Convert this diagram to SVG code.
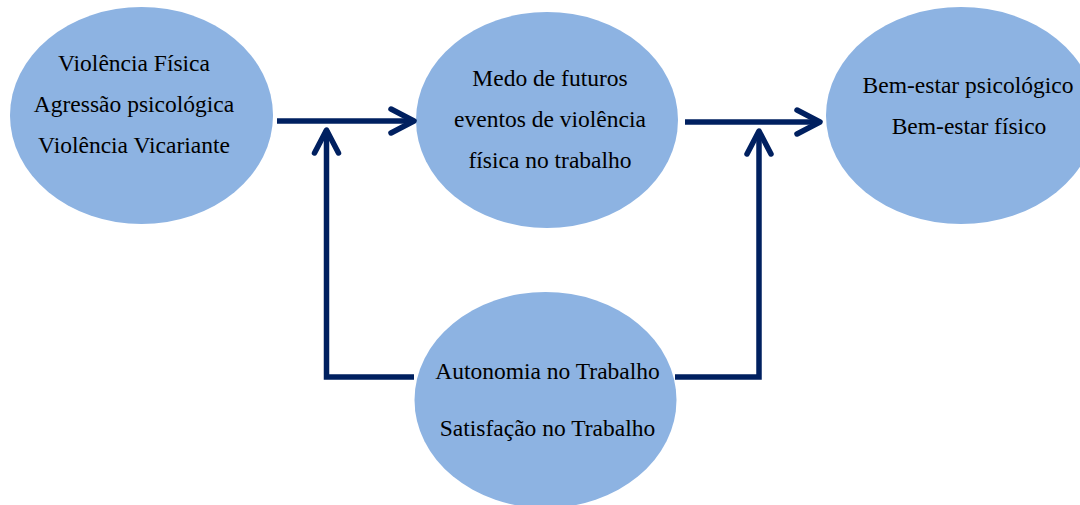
<svg xmlns="http://www.w3.org/2000/svg" width="1080" height="505" viewBox="0 0 1080 505">
<style>
.node{fill:#8DB3E2;}
.lbl{font-family:"Liberation Serif","Times New Roman",serif;font-size:23.5px;fill:#000;text-anchor:middle;}
.conn{fill:none;stroke:#002060;stroke-width:5.5;stroke-linejoin:miter;marker-end:url(#arrow);}
</style>
<defs>
<marker id="arrow" markerUnits="userSpaceOnUse" viewBox="-30 -16 34 32" refX="0" refY="0" markerWidth="34" markerHeight="32" orient="auto" overflow="visible">
<path d="M-23,-12 L0,0 L-23,12" fill="none" stroke="#002060" stroke-width="5.5" stroke-linecap="round" stroke-linejoin="round"/>
</marker>
</defs>
<rect width="1080" height="505" fill="#fff"/>
<g id="node-violencia">
<ellipse class="node" cx="141.5" cy="115.5" rx="131.5" ry="108.5"/>
<text class="lbl" x="134" y="71">Violência Física</text>
<text class="lbl" x="134" y="112">Agressão psicológica</text>
<text class="lbl" x="134" y="153">Violência Vicariante</text>
</g>
<g id="node-medo">
<ellipse class="node" cx="547" cy="120" rx="131" ry="108"/>
<text class="lbl" x="550" y="86">Medo de futuros</text>
<text class="lbl" x="550" y="127">eventos de violência</text>
<text class="lbl" x="550" y="168">física no trabalho</text>
</g>
<g id="node-bemestar">
<ellipse class="node" cx="961" cy="115.5" rx="135" ry="108.5"/>
<text class="lbl" x="968" y="93">Bem-estar psicológico</text>
<text class="lbl" x="969" y="134">Bem-estar físico</text>
</g>
<g id="node-autonomia">
<ellipse class="node" cx="545.5" cy="400" rx="131" ry="108"/>
<text class="lbl" x="547.5" y="379">Autonomia no Trabalho</text>
<text class="lbl" x="547.5" y="436">Satisfação no Trabalho</text>
</g>
<g id="connectors">
<path class="conn" d="M277,121 H414"/>
<path class="conn" d="M685,122 H820"/>
<path class="conn" d="M414,377 H326.5 V130"/>
<path class="conn" d="M675,377 H759 V131"/>
</g>
</svg>
